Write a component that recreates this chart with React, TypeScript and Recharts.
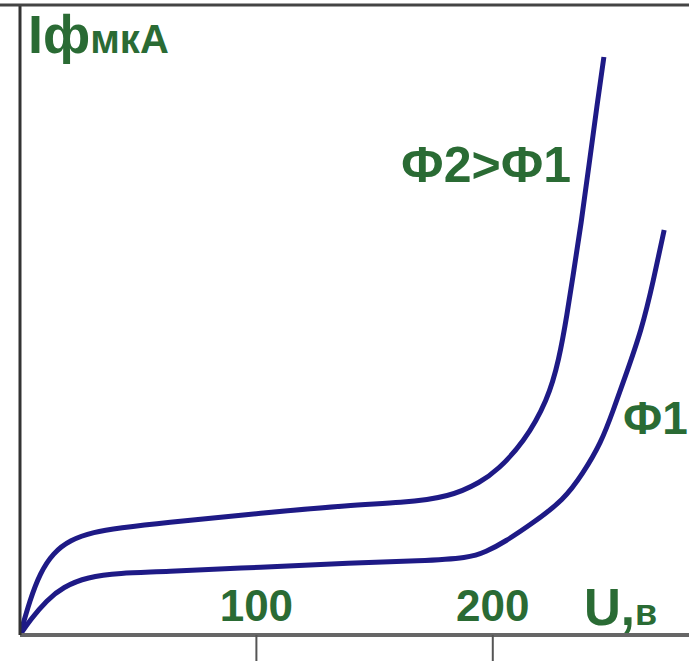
import { LineChart, Line, XAxis, YAxis } from "recharts";

// U, в (x) and Iф, мкА (y), arbitrary current units
const uPhi2 = [0, 4.2, 8.5, 14, 21.2, 31, 42.4, 59, 103, 140, 161, 182, 195, 202, 213, 223.3, 228, 231.4, 234.3, 237.3, 240.7, 244.1, 247];
const iPhi2 = [0, 3.5, 6.2, 8.2, 9.5, 10.3, 10.7, 11.2, 12.2, 13.0, 13.2, 13.8, 15.3, 16.5, 19.2, 23.5, 27.5, 32, 36.5, 41, 47, 53, 57.8];

const uPhi1 = [0, 4.2, 11.4, 18.2, 28.4, 42.4, 59, 103, 140, 169.5, 190, 197, 205, 217, 230, 238, 245.8, 251, 255.5, 263, 268, 272.5];
const iPhi1 = [0, 1.5, 3.5, 4.8, 5.8, 6.2, 6.3, 6.8, 7.2, 7.4, 7.7, 8.3, 9.3, 11.2, 13.5, 16.1, 19.2, 22.5, 25.5, 30.5, 35.5, 40.5];

const xTicks = [100, 200];

const phi2Data = uPhi2.map((u, i) => ({ u, i: iPhi2[i] }));
const phi1Data = uPhi1.map((u, i) => ({ u, i: iPhi1[i] }));

const green = "#2a6b34";
const lineColor = "#1e1a86";
const font = "'Liberation Sans', Arial, sans-serif";

function TickLabel(props: any) {
    const { x, y, payload } = props;
    return (
        <text
            x={x}
            y={y - 40}
            textAnchor="middle"
            fill={green}
            fontFamily={font}
            fontWeight="bold"
            fontSize={44}
        >
            {payload.value}
        </text>
    );
}

export default function App() {
    return (
        <div
            style={{
                position: "absolute",
                left: 0,
                top: 0,
                width: 689,
                height: 661,
                background: "#fff",
            }}
        >
            <LineChart
                width={689}
                height={661}
                margin={{ top: 5, right: 0, left: 0, bottom: 0 }}
            >
                <XAxis
                    type="number"
                    dataKey="u"
                    domain={[0, 283]}
                    ticks={xTicks}
                    height={26}
                    tickSize={26}
                    tickMargin={0}
                    axisLine={{ stroke: "#666", strokeWidth: 4 }}
                    tickLine={{ stroke: "#555", strokeWidth: 2 }}
                    tick={<TickLabel />}
                    allowDataOverflow
                />
                <YAxis
                    type="number"
                    dataKey="i"
                    domain={[0, 63]}
                    width={20}
                    tick={false}
                    tickLine={false}
                    axisLine={{ stroke: "#333", strokeWidth: 3 }}
                    allowDataOverflow
                />
                <Line
                    data={phi2Data}
                    dataKey="i"
                    type="basis"
                    stroke={lineColor}
                    strokeWidth={5}
                    dot={false}
                    isAnimationActive={false}
                />
                <Line
                    data={phi1Data}
                    dataKey="i"
                    type="basis"
                    stroke={lineColor}
                    strokeWidth={5}
                    dot={false}
                    isAnimationActive={false}
                />
            </LineChart>
            <svg
                width={689}
                height={661}
                style={{ position: "absolute", left: 0, top: 0, pointerEvents: "none" }}
            >
                <line x1={0} x2={689} y1={5} y2={5} stroke="#444" strokeWidth={3} />
                <text x={28} y={53} fill={green} fontFamily={font} fontWeight="bold">
                    <tspan fontSize={54}>Iф</tspan>
                    <tspan fontSize={40}>мкА</tspan>
                </text>
                <text x={401} y={182} fill={green} fontFamily={font} fontWeight="bold" fontSize={50}>
                    Ф2&gt;Ф1
                </text>
                <text x={623} y={434} fill={green} fontFamily={font} fontWeight="bold" fontSize={46}>
                    Ф1
                </text>
                <text x={584} y={625} fill={green} fontFamily={font} fontWeight="bold">
                    <tspan fontSize={51}>U,</tspan>
                    <tspan fontSize={36}>в</tspan>
                </text>
            </svg>
        </div>
    );
}
